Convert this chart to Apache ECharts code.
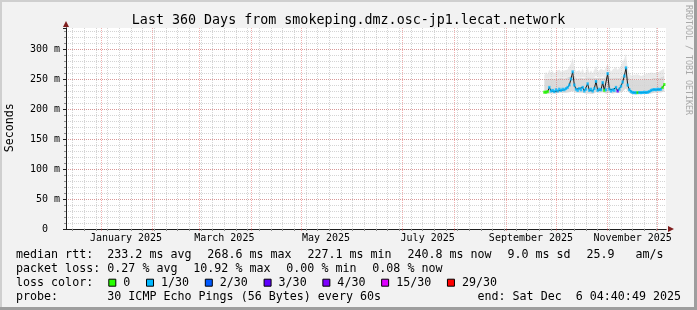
<!DOCTYPE html>
<html>
<head>
<meta charset="utf-8">
<script src="https://cdn.jsdelivr.net/npm/echarts@6.0.0/dist/echarts.min.js"></script>
<style>
html,body{margin:0;padding:0;background:#f2f2f2;overflow:hidden}
#chart{width:697px;height:310px}
</style>
</head>
<body>
<div id="chart"></div>
<script>
// ---------------- data ----------------
const rangeStartUTC = [2024, 11, 11];      // Dec 11 2024 (360 days before end)
const rangeDays = 360;
const dataStart = '2025-09-24';

// median RTT in ms, one value per day from dataStart
const median = [
  228,228,229,236,230,231,229,232,230,233,
  231,233,232,234,236,240,250,262,240,233,
  231,234,232,236,230,233,242,231,233,230,
  234,246,231,233,232,244,231,232,259,233,
  230,232,231,236,230,233,238,245,255,268.6,
  240,232,229,227.5,227.2,227.1,227.3,227.5,227.2,227.5,
  228,227.5,228,229,231,232,232.5,232,233,232.5,
  233,236,240.8
];
// loss bucket per day (index into lossNames / lossColors)
const lossLevel = [
  0,0,0,1,1,1,1,1,1,1,
  1,1,1,1,1,1,1,1,1,1,
  1,1,1,1,1,1,1,1,1,1,
  1,1,1,1,1,1,0,1,1,1,
  1,1,1,1,3,1,1,1,1,1,
  1,1,1,1,1,1,0,1,1,1,
  1,1,1,1,1,1,1,1,1,1,
  1,0,0
];
// smoke: lowest ping, top of dense band, highest ping (ms)
const smokeMin = [
  225,225,226,226,226,226,225,226,226,227,
  226,227,226,227,227,228,229,230,228,227,
  226,227,226,227,225,226,227,226,227,225,
  227,228,226,227,226,228,226,226,229,227,
  225,226,225,227,225,227,228,229,231,234,
  229,227,225,224.5,224.5,224.5,224.5,224.5,224.5,224.5,
  225,224.5,225,225.5,226,227,227,227,227.5,227,
  227.5,228,229
];
const smokeBandTop = [
  250,251,251,252,251,252,251,252,251,252,
  252,252,251,252,253,254,256,258,254,252,
  251,252,252,253,251,252,254,252,252,251,
  252,255,252,252,252,254,252,252,257,253,
  251,252,252,253,252,252,253,255,258,262,
  254,252,250,249,249,249,249,249,249,249,
  250,249,250,250,251,252,252,252,252,252,
  253,254,256
];
const smokeMax = [
  256,262,258,266,260,264,258,263,260,266,
  262,259,264,261,266,268,276,286,270,262,
  259,265,261,268,258,263,270,260,264,259,
  266,272,262,265,267,270,264,262,276,268,
  262,266,263,270,265,268,272,278,284,292,
  268,260,256,255,257,255,258,256,255,258,
  257,256,259,258,261,262,260,263,261,262,
  264,265,268
];

const xLabelDays  = ['2025-01-16','2025-03-16','2025-05-16','2025-07-16','2025-09-16','2025-11-16'];
const xLabelTexts = ['January 2025','March 2025','May 2025','July 2025','September 2025','November 2025'];
const yTickValues = [0, 50, 100, 150, 200, 250, 300];
const yTickLabels = ['0  ', '50 m', '100 m', '150 m', '200 m', '250 m', '300 m'];
const yMax = 335;

const titleText = 'Last 360 Days from smokeping.dmz.osc-jp1.lecat.network';
const yTitle = 'Seconds';
const watermark = 'RRDTOOL / TOBI OETIKER';
const rttLabel = 'median rtt:';
const rttStats = ['233.2 ms avg', '268.6 ms max', '227.1 ms min', '240.8 ms now', '9.0 ms sd', '25.9   am/s'];
const lossLabel = 'packet loss:';
const lossStats = ['0.27 % avg', '10.92 % max', '0.00 % min', '0.08 % now'];
const colorLabel = 'loss color:';
const lossNames  = ['0', '1/30', '2/30', '3/30', '4/30', '15/30', '29/30'];
const lossColors = ['#26ff00', '#00b8ff', '#0059ff', '#5e00ff', '#7e00ff', '#dd00ff', '#ff0000'];
const probeLabel = 'probe:';
const probeText = '30 ICMP Echo Pings (56 Bytes) every 60s';
const endText = 'end: Sat Dec  6 04:40:49 2025';

// ---------------- build ----------------
function ymd(d) {
  const m = d.getUTCMonth() + 1, dd = d.getUTCDate();
  return d.getUTCFullYear() + '-' + (m < 10 ? '0' : '') + m + '-' + (dd < 10 ? '0' : '') + dd;
}
const days = [];
for (let i = 0; i <= rangeDays; i++) {
  days.push(ymd(new Date(Date.UTC(rangeStartUTC[0], rangeStartUTC[1], rangeStartUTC[2] + i))));
}
const offset = days.indexOf(dataStart);
const pad = arr => days.map((_, i) => (i >= offset && i - offset < arr.length) ? arr[i - offset] : null);
const diff = (a, b) => a.map((v, i) => v - b[i]);

const isSunday = v => new Date(v + 'T00:00:00Z').getUTCDay() === 0;
const isMonthStart = v => v.slice(8) === '01';

const MONO = '"DejaVu Sans Mono", monospace';
const GRID_GREY = '#d4d4d4';
const GRID_RED = 'rgba(222,79,79,0.45)';
const AXIS_COL = '#1f1f1f';
const ARROW_COL = '#801f1f';

// ---------------- graphics (text / frame) ----------------
const LF = 11.67, CH = 7.02, GAP = 15.8, COL = 107.3, LX = 16;
const rowY = [254.6, 268.7, 282.7, 296.7];
function txt(x, y, s, extra) {
  return { type: 'text', x: x, y: y, silent: true, z: 10,
    style: Object.assign({ text: s, fill: '#000', fontSize: LF, fontFamily: MONO,
      align: 'left', verticalAlign: 'middle' }, extra || {}) };
}
const g = [];
// frame shading
g.push({ type: 'rect', shape: { x: 0, y: 0, width: 697, height: 2 }, style: { fill: '#cfcfcf' }, silent: true });
g.push({ type: 'rect', shape: { x: 0, y: 0, width: 2, height: 310 }, style: { fill: '#cfcfcf' }, silent: true });
g.push({ type: 'rect', shape: { x: 0, y: 307, width: 697, height: 3 }, style: { fill: '#9e9e9e' }, silent: true });
g.push({ type: 'rect', shape: { x: 694, y: 0, width: 3, height: 310 }, style: { fill: '#9e9e9e' }, silent: true });
// title
g.push(txt(348.5, 20.4, titleText, { fontSize: 13.33, align: 'center' }));
// y title
g.push(Object.assign(txt(10.3, 127.7, yTitle, { align: 'center' }), { rotation: Math.PI / 2 }));
// watermark
g.push(Object.assign(txt(688.3, 60, watermark, { align: 'center', fontSize: 8.3, fill: '#a8a8a8' }), { rotation: -Math.PI / 2 }));
// legend rows
g.push(txt(LX, rowY[0], rttLabel));
let cx = COL;
rttStats.forEach(s => { g.push(txt(cx, rowY[0], s)); cx += s.length * CH + GAP; });
g.push(txt(LX, rowY[1], lossLabel));
cx = COL;
lossStats.forEach(s => { g.push(txt(cx, rowY[1], s)); cx += s.length * CH + GAP; });
g.push(txt(LX, rowY[2], colorLabel));
let bx = COL + 1;
lossNames.forEach((s, i) => {
  g.push({ type: 'rect', silent: true, z: 10, shape: { x: bx + 0.5, y: rowY[2] - 3.5, width: 7, height: 7 },
    style: { fill: lossColors[i], stroke: '#000', lineWidth: 1 } });
  const tx = bx + 15;
  g.push(txt(tx, rowY[2], s));
  bx = tx + s.length * CH + 15.7;
});
g.push(txt(LX, rowY[3], probeLabel));
g.push(txt(COL, rowY[3], probeText));
g.push(txt(681, rowY[3], endText, { align: 'right' }));

// ---------------- option ----------------
const catAxisBase = {
  type: 'category', data: days, boundaryGap: false, position: 'bottom', z: 2,
  axisLine: { onZero: false }
};
const valAxisBase = { type: 'value', min: 0, max: yMax, position: 'left', z: 2 };
const option = {
  animation: false,
  backgroundColor: '#f2f2f2',
  graphic: g,
  grid: { left: 66, right: 31, top: 28, bottom: 81, show: true, backgroundColor: '#ffffff', borderWidth: 0 },
  xAxis: [
    // monthly red grid + arrow (drawn first)
    Object.assign({}, catAxisBase, {
      axisLine: { onZero: false, show: true, lineStyle: { color: ARROW_COL, width: 1 },
        symbol: ['none', 'triangle'], symbolSize: [6, 6], symbolOffset: [0, 5] },
      axisTick: { show: true, length: 2, interval: (i, v) => isMonthStart(v), lineStyle: { color: GRID_RED } },
      splitLine: { show: true, interval: (i, v) => isMonthStart(v), lineStyle: { color: GRID_RED, width: 1, type: [1, 1] } },
      axisLabel: { show: true, interval: (i, v) => xLabelDays.indexOf(v) >= 0,
        formatter: v => { const k = xLabelDays.indexOf(v); return k >= 0 ? xLabelTexts[k] : ''; },
        color: '#000', fontSize: 10, fontFamily: MONO, margin: 4 }
    }),
    // weekly grey grid + black axis line
    Object.assign({}, catAxisBase, {
      axisLine: { onZero: false, show: true, lineStyle: { color: AXIS_COL, width: 1 } },
      axisTick: { show: true, length: 2, interval: (i, v) => isSunday(v), lineStyle: { color: '#8f8f8f' } },
      splitLine: { show: true, interval: (i, v) => isSunday(v), lineStyle: { color: GRID_GREY, width: 1, type: [1, 1] } },
      axisLabel: { show: false }
    })
  ],
  yAxis: [
    // arrow only
    Object.assign({}, valAxisBase, { interval: 50,
      axisLine: { show: true, onZero: false, lineStyle: { color: ARROW_COL, width: 1 },
        symbol: ['none', 'triangle'], symbolSize: [6, 6], symbolOffset: [0, 4] },
      axisTick: { show: false }, axisLabel: { show: false }, splitLine: { show: false } }),
    // minor grey grid, black axis line, labels
    Object.assign({}, valAxisBase, { interval: 10,
      axisLine: { show: true, onZero: false, lineStyle: { color: AXIS_COL, width: 1 } },
      axisTick: { show: true, length: 2, lineStyle: { color: '#8f8f8f' } },
      axisLabel: { show: true, showMaxLabel: false, margin: 6, color: '#000', fontSize: 10, fontFamily: MONO,
        formatter: v => { const k = yTickValues.indexOf(v); return k >= 0 ? yTickLabels[k] : ''; } },
      splitLine: { show: true, showMaxLine: false, showMinLine: false,
        lineStyle: { color: GRID_GREY, width: 1, type: [1, 1] } } }),
    // major red grid on top
    Object.assign({}, valAxisBase, { interval: 50,
      axisLine: { show: false },
      axisTick: { show: true, length: 3, lineStyle: { color: AXIS_COL } },
      axisLabel: { show: false },
      splitLine: { show: true, showMaxLine: false, showMinLine: false,
        lineStyle: { color: GRID_RED, width: 1, type: [1, 1] } } })
  ],
  series: [
    { name: 'smokeBase', type: 'line', stack: 'smoke', xAxisIndex: 1, yAxisIndex: 1, z: 1,
      data: pad(smokeMin), symbol: 'none', lineStyle: { width: 0, opacity: 0 }, silent: true },
    { name: 'smokeBand', type: 'line', stack: 'smoke', xAxisIndex: 1, yAxisIndex: 1, z: 1,
      data: pad(diff(smokeBandTop, smokeMin)), symbol: 'none', lineStyle: { width: 0, opacity: 0 },
      areaStyle: { color: '#dadada', opacity: 1 }, silent: true },
    { name: 'smokeTop', type: 'line', stack: 'smoke', xAxisIndex: 1, yAxisIndex: 1, z: 1,
      data: pad(diff(smokeMax, smokeBandTop)), symbol: 'none', lineStyle: { width: 0, opacity: 0 },
      areaStyle: { color: '#eaeaea', opacity: 1 }, silent: true },
    { name: 'median', type: 'line', xAxisIndex: 1, yAxisIndex: 1, z: 3,
      data: pad(median), symbol: 'none', lineStyle: { color: '#1a1a1a', width: 1 }, silent: true },
    { name: 'loss', type: 'scatter', xAxisIndex: 1, yAxisIndex: 1, z: 4,
      data: median.map((v, k) => ({ value: [offset + k, v], itemStyle: { color: lossColors[lossLevel[k]] } })),
      symbol: 'rect', symbolSize: [2.4, 3], silent: true }
  ]
};
const chart = echarts.init(document.getElementById('chart'), null, { renderer: 'canvas', width: 697, height: 310 });
chart.setOption(option);
</script>
</body>
</html>
